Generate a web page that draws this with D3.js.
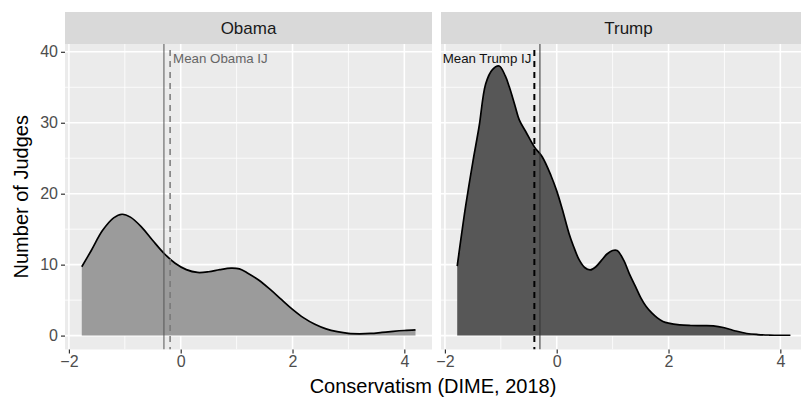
<!DOCTYPE html>
<html>
<head>
<meta charset="utf-8">
<script src="https://cdn.jsdelivr.net/npm/d3@7"></script>
<style>
  html, body { margin: 0; padding: 0; background: #fff; }
  svg { display: block; font-family: "Liberation Sans", Arial, Helvetica, sans-serif; }
</style>
</head>
<body>
<svg id="chart" width="801" height="398"></svg>
<script>
// Panels (facets)
const panels = ["Obama", "Trump"];

// Density curves: x = conservatism score, y = number of judges
const obamaX = [-1.77, -1.6, -1.4, -1.2, -1.05, -0.9, -0.7, -0.5, -0.3, -0.1, 0.1, 0.3, 0.5, 0.7, 0.9, 1.05, 1.2, 1.4, 1.6, 1.8, 2.0, 2.2, 2.4, 2.6, 2.8, 3.0, 3.2, 3.4, 3.6, 3.8, 4.0, 4.2];
const obamaY = [9.7, 12.0, 14.8, 16.6, 17.1, 16.7, 15.3, 13.4, 11.6, 10.2, 9.3, 8.9, 9.0, 9.3, 9.5, 9.4, 8.8, 7.8, 6.5, 5.1, 3.7, 2.5, 1.6, 0.95, 0.55, 0.3, 0.25, 0.3, 0.45, 0.6, 0.72, 0.8];

const trumpX = [-1.78, -1.63, -1.5, -1.39, -1.27, -1.15, -1.03, -0.92, -0.85, -0.75, -0.67, -0.55, -0.4, -0.26, -0.1, 0.0, 0.1, 0.22, 0.3, 0.4, 0.5, 0.6, 0.7, 0.8, 0.9, 1.0, 1.08, 1.2, 1.3, 1.41, 1.5, 1.6, 1.7, 1.8, 1.9, 2.0, 2.2, 2.4, 2.6, 2.8, 3.0, 3.2, 3.4, 3.6, 3.8, 4.0, 4.18];
const trumpY = [9.8, 18.2, 24.5, 29.4, 35.5, 37.5, 38.0, 36.6, 35.1, 32.5, 30.4, 28.7, 26.6, 25.2, 22.5, 20.4, 17.8, 14.4, 12.6, 10.7, 9.6, 9.25, 9.7, 10.6, 11.5, 12.0, 12.0, 10.6, 8.7, 6.9, 5.4, 4.1, 3.2, 2.5, 2.0, 1.75, 1.5, 1.42, 1.4, 1.37, 1.1, 0.65, 0.3, 0.15, 0.08, 0.05, 0.05];

// Reference lines
const overallMean = [-0.30, -0.30];      // solid line, per panel
const groupMean = [-0.19, -0.40];         // dashed line, per panel
const meanLabels = ["Mean Obama IJ", "Mean Trump IJ"];
const labelY = 39;

// Axis ticks
const xMajor = [-2, 0, 2, 4];
const xMinor = [-1, 1, 3];
const yMajor = [0, 10, 20, 30, 40];
const yMinor = [5, 15, 25, 35];

const svg = d3.select("#chart");

const panelW = 367;
const panelLeft = [65, 441];
const panelTop = 44, panelBottom = 349.5;
const stripTop = 12;

const y = d3.scaleLinear().domain([-1.96, 41.1]).range([panelBottom, panelTop]);

const fills = ["#9b9b9b", "#575757"];
const series = [
  obamaX.map((v, i) => [v, obamaY[i]]),
  trumpX.map((v, i) => [v, trumpY[i]])
];

const clip = svg.append("defs");

panels.forEach((name, p) => {
  const x0 = panelLeft[p];
  const x = d3.scaleLinear().domain([-2.07, 4.495]).range([x0, x0 + panelW]);
  const g = svg.append("g");

  clip.append("clipPath").attr("id", "clip" + p)
    .append("rect").attr("x", x0).attr("y", panelTop).attr("width", panelW).attr("height", panelBottom - panelTop);

  // strip
  g.append("rect").attr("x", x0).attr("y", stripTop).attr("width", panelW).attr("height", panelTop - stripTop)
    .attr("fill", "#d9d9d9");
  g.append("text").attr("x", x0 + panelW / 2 + (p === 1 ? 4 : 0)).attr("y", (stripTop + panelTop) / 2)
    .attr("text-anchor", "middle").attr("dominant-baseline", "central")
    .attr("font-size", 17).attr("fill", "#1a1a1a").text(name);

  // panel background
  g.append("rect").attr("x", x0).attr("y", panelTop).attr("width", panelW).attr("height", panelBottom - panelTop)
    .attr("fill", "#ebebeb");

  const grid = g.append("g").attr("clip-path", `url(#clip${p})`);
  grid.selectAll(".xmin").data(xMinor).join("line")
    .attr("x1", d => x(d)).attr("x2", d => x(d)).attr("y1", panelTop).attr("y2", panelBottom)
    .attr("stroke", "#fff").attr("stroke-width", 0.8);
  grid.selectAll(".ymin").data(yMinor).join("line")
    .attr("y1", d => y(d)).attr("y2", d => y(d)).attr("x1", x0).attr("x2", x0 + panelW)
    .attr("stroke", "#fff").attr("stroke-width", 0.8);
  grid.selectAll(".xmaj").data(xMajor).join("line")
    .attr("x1", d => x(d)).attr("x2", d => x(d)).attr("y1", panelTop).attr("y2", panelBottom)
    .attr("stroke", "#fff").attr("stroke-width", 1.6);
  grid.selectAll(".ymaj").data(yMajor).join("line")
    .attr("y1", d => y(d)).attr("y2", d => y(d)).attr("x1", x0).attr("x2", x0 + panelW)
    .attr("stroke", "#fff").attr("stroke-width", 1.6);

  // density area + upper outline
  const area = d3.area().x(d => x(d[0])).y0(y(0)).y1(d => y(d[1])).curve(d3.curveCatmullRom.alpha(0.5));
  const line = d3.line().x(d => x(d[0])).y(d => y(d[1])).curve(d3.curveCatmullRom.alpha(0.5));
  grid.append("path").datum(series[p]).attr("d", area).attr("fill", fills[p]);
  grid.append("path").datum(series[p]).attr("d", line).attr("fill", "none")
    .attr("stroke", "#000").attr("stroke-width", 1.7);

  // reference lines
  grid.append("line").attr("x1", x(overallMean[p])).attr("x2", x(overallMean[p]))
    .attr("y1", panelTop).attr("y2", panelBottom)
    .attr("stroke", p === 0 ? "#555" : "#333").attr("stroke-width", 1);
  grid.append("line").attr("x1", x(groupMean[p])).attr("x2", x(groupMean[p]))
    .attr("y1", panelTop + 6).attr("y2", panelBottom)
    .attr("stroke", p === 0 ? "#777" : "#000").attr("stroke-width", p === 0 ? 1.5 : 2)
    .attr("stroke-dasharray", "6,5");

  // label
  g.append("text")
    .attr("x", x(groupMean[p]) + (p === 0 ? 3 : -3)).attr("y", y(labelY))
    .attr("text-anchor", p === 0 ? "start" : "end").attr("dominant-baseline", "central")
    .attr("font-size", 13.3).attr("fill", p === 0 ? "#666" : "#111").text(meanLabels[p]);

  // x axis
  const xAxis = g.append("g").attr("transform", `translate(0,${panelBottom})`)
    .call(d3.axisBottom(x).tickValues(xMajor).tickSize(4).tickPadding(2).tickFormat(d => d < 0 ? "\u2212" + Math.abs(d) : d));
  xAxis.select(".domain").remove();
  xAxis.selectAll(".tick line").attr("stroke", "#333").attr("stroke-width", 1.2);
  xAxis.selectAll(".tick text").attr("font-size", 16).attr("fill", "#4d4d4d").attr("font-family", null);

  if (p === 0) {
    const yAxis = g.append("g").attr("transform", `translate(${x0},0)`)
      .call(d3.axisLeft(y).tickValues(yMajor).tickSize(4).tickPadding(3));
    yAxis.select(".domain").remove();
    yAxis.selectAll(".tick line").attr("stroke", "#333").attr("stroke-width", 1.2);
    yAxis.selectAll(".tick text").attr("font-size", 16).attr("fill", "#4d4d4d").attr("font-family", null);
  }
});

// axis titles
svg.append("text").attr("x", 433).attr("y", 393).attr("text-anchor", "middle")
  .attr("font-size", 20).attr("fill", "#000").text("Conservatism (DIME, 2018)");
svg.append("text").attr("transform", `translate(21,${(panelTop + panelBottom) / 2}) rotate(-90)`)
  .attr("text-anchor", "middle").attr("dominant-baseline", "central")
  .attr("font-size", 20).attr("fill", "#000").text("Number of Judges");
</script>
</body>
</html>
